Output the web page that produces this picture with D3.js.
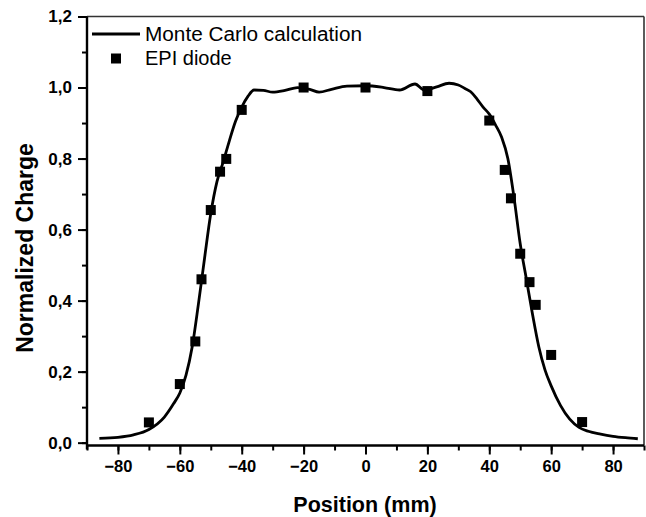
<!DOCTYPE html>
<html>
<head>
<meta charset="utf-8">
<script src="https://cdn.jsdelivr.net/npm/d3@7"></script>
<style>
  body { margin: 0; background: #fff; }
  text { font-family: "Liberation Sans", Arial, sans-serif; }
</style>
</head>
<body>
<div id="chart"></div>
<script>
// Monte Carlo curve
var mcX = [-86, -80, -75, -70, -65, -62, -60, -58, -56, -54, -52, -50, -48, -46, -44, -42, -40, -38, -36, -33, -30, -26, -22, -18, -15, -11, -6, 0, 6, 11, 16, 19, 23, 27, 30, 32, 34, 36, 38, 40, 42, 44, 46, 48, 50, 52, 54, 56, 58, 60, 63, 66, 69, 72, 76, 80, 84, 88];
var mcY = [0.012, 0.015, 0.022, 0.037, 0.072, 0.11, 0.14, 0.19, 0.27, 0.39, 0.52, 0.645, 0.735, 0.79, 0.85, 0.905, 0.945, 0.975, 0.993, 0.992, 0.987, 0.992, 1.0, 0.995, 0.987, 0.995, 1.004, 1.005, 1.0, 0.993, 1.01, 0.993, 1.002, 1.012, 1.007, 0.998, 0.988, 0.968, 0.945, 0.925, 0.895, 0.86, 0.80, 0.69, 0.56, 0.46, 0.36, 0.27, 0.205, 0.16, 0.105, 0.066, 0.043, 0.032, 0.024, 0.018, 0.014, 0.011];

// EPI diode measurements
var epiX = [-70, -60, -55, -53, -50, -47, -45, -40, -20, 0, 20, 40, 45, 47, 50, 53, 55, 60, 70];
var epiY = [0.057, 0.165, 0.285, 0.46, 0.655, 0.763, 0.799, 0.937, 1.0, 1.0, 0.99, 0.907, 0.768, 0.688, 0.532, 0.452, 0.388, 0.247, 0.058];

var xTicks = [-80, -60, -40, -20, 0, 20, 40, 60, 80];
var yTicks = [0.0, 0.2, 0.4, 0.6, 0.8, 1.0, 1.2];

var W = 646, H = 517;
var margin = { top: 16.5, right: 2, bottom: 71.5, left: 87 };
var width = W - margin.left - margin.right;
var height = H - margin.top - margin.bottom;

var svg = d3.select("#chart").append("svg")
  .attr("width", W)
  .attr("height", H);

var g = svg.append("g")
  .attr("transform", "translate(" + margin.left + "," + margin.top + ")");

var x = d3.scaleLinear().domain([-90, 90]).range([0, width]);
var y = d3.scaleLinear().domain([-0.008, 1.2]).range([height, 0]);

var fmt = function (d) { return d3.format(".1f")(d).replace(".", ","); };

// frame (top / right)
g.append("line").attr("x1", 0).attr("x2", width).attr("y1", 0).attr("y2", 0)
  .attr("stroke", "#333").attr("stroke-width", 1.6);
g.append("line").attr("x1", width).attr("x2", width).attr("y1", 0).attr("y2", height)
  .attr("stroke", "#333").attr("stroke-width", 1.6);

// minor ticks
g.append("g")
  .attr("transform", "translate(0," + height + ")")
  .call(d3.axisBottom(x).tickValues(d3.range(-90, 91, 10)).tickSize(5).tickFormat(""))
  .call(function (a) { a.select(".domain").remove(); a.selectAll("line").attr("stroke-width", 2); });
g.append("g")
  .call(d3.axisLeft(y).tickValues(d3.range(0, 1.21, 0.1)).tickSize(5).tickFormat(""))
  .call(function (a) { a.select(".domain").remove(); a.selectAll("line").attr("stroke-width", 2); });

// x axis
var xa = g.append("g")
  .attr("transform", "translate(0," + height + ")")
  .call(d3.axisBottom(x).tickValues(xTicks).tickSize(9).tickPadding(6).tickFormat(d3.format("d")));
xa.select(".domain").attr("stroke-width", 2.4).attr("d", "M0,0H" + width);
xa.selectAll("line").attr("stroke-width", 2);
xa.selectAll("text").attr("font-size", "16.5px").attr("font-weight", "bold").attr("fill", "#000")
  .attr("font-family", "Liberation Sans, Arial, sans-serif");

// y axis
var ya = g.append("g")
  .call(d3.axisLeft(y).tickValues(yTicks).tickSize(9).tickPadding(6).tickFormat(fmt));
ya.select(".domain").attr("stroke-width", 2.4).attr("d", "M0," + (height + 4) + "V0");
ya.selectAll("line").attr("stroke-width", 2);
ya.selectAll("text").attr("font-size", "17px").attr("font-weight", "bold").attr("fill", "#000")
  .attr("font-family", "Liberation Sans, Arial, sans-serif");

// axis titles
svg.append("text")
  .attr("x", 365).attr("y", 511.5)
  .attr("text-anchor", "middle")
  .attr("font-size", "21.5px").attr("font-weight", "bold")
  .text("Position (mm)");

svg.append("text")
  .attr("transform", "translate(33,248) rotate(-90)")
  .attr("text-anchor", "middle")
  .attr("font-size", "23px").attr("font-weight", "bold")
  .text("Normalized Charge");

// Monte Carlo line
var mc = mcX.map(function (d, i) { return [d, mcY[i]]; });
var line = d3.line()
  .x(function (d) { return x(d[0]); })
  .y(function (d) { return y(d[1]); })
  .curve(d3.curveMonotoneX);
g.append("path")
  .datum(mc)
  .attr("d", line)
  .attr("fill", "none")
  .attr("stroke", "#000")
  .attr("stroke-width", 2.8)
  .attr("stroke-linejoin", "round");

// EPI diode squares
var sq = 10;
var epi = epiX.map(function (d, i) { return [d, epiY[i]]; });
g.selectAll("rect.epi")
  .data(epi)
  .enter()
  .append("rect")
  .attr("class", "epi")
  .attr("x", function (d) { return x(d[0]) - sq / 2; })
  .attr("y", function (d) { return y(d[1]) - sq / 2; })
  .attr("width", sq)
  .attr("height", sq)
  .attr("fill", "#000");

// legend
var lg = svg.append("g");
lg.append("line").attr("x1", 92).attr("x2", 140).attr("y1", 34).attr("y2", 34)
  .attr("stroke", "#000").attr("stroke-width", 2.8);
lg.append("text").attr("x", 145).attr("y", 41).attr("font-size", "20px")
  .attr("textLength", 217).attr("lengthAdjust", "spacingAndGlyphs")
  .text("Monte Carlo calculation");
lg.append("rect").attr("x", 111).attr("y", 53.5).attr("width", 10).attr("height", 10).attr("fill", "#000");
lg.append("text").attr("x", 145).attr("y", 65).attr("font-size", "20px")
  .text("EPI diode");
</script>
</body>
</html>
